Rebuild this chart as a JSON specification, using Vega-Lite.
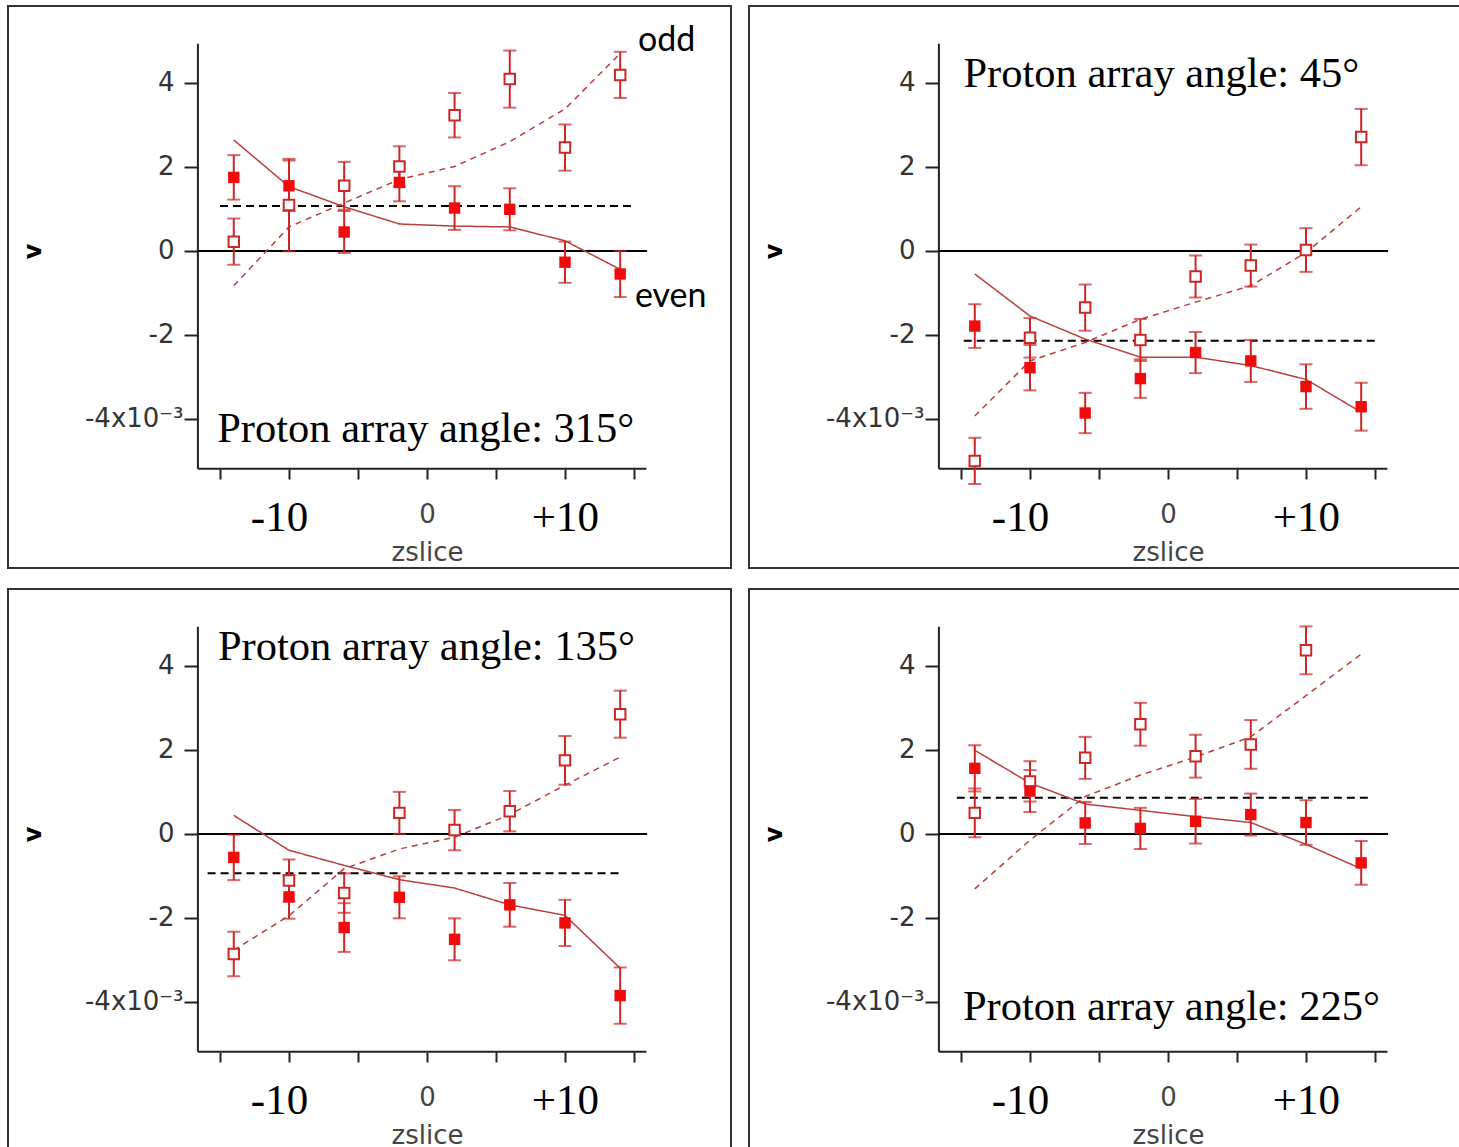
{
  "$schema": "https://vega.github.io/schema/vega-lite/v6.json",
  "padding": {"left": 7, "top": 5, "right": 0, "bottom": 0},
  "background": "white",
  "config": {"view": {"stroke": "#333", "strokeWidth": 2}},
  "data": {"values": [
    {"angle": 315, "type": "pt", "kind": "even", "z": -14, "v": 1.75, "err": 0.53},
    {"angle": 315, "type": "pt", "kind": "even", "z": -10, "v": 1.55, "err": 0.6},
    {"angle": 315, "type": "pt", "kind": "even", "z": -6, "v": 0.45, "err": 0.5},
    {"angle": 315, "type": "pt", "kind": "even", "z": -2, "v": 1.63, "err": 0.45},
    {"angle": 315, "type": "pt", "kind": "even", "z": 2, "v": 1.02, "err": 0.52},
    {"angle": 315, "type": "pt", "kind": "even", "z": 6, "v": 0.99, "err": 0.5},
    {"angle": 315, "type": "pt", "kind": "even", "z": 10, "v": -0.27, "err": 0.49},
    {"angle": 315, "type": "pt", "kind": "even", "z": 14, "v": -0.55, "err": 0.55},
    {"angle": 315, "type": "pt", "kind": "odd", "z": -14, "v": 0.22, "err": 0.55},
    {"angle": 315, "type": "pt", "kind": "odd", "z": -10, "v": 1.09, "err": 1.1},
    {"angle": 315, "type": "pt", "kind": "odd", "z": -6, "v": 1.55, "err": 0.57},
    {"angle": 315, "type": "pt", "kind": "odd", "z": -2, "v": 2.01, "err": 0.48},
    {"angle": 315, "type": "pt", "kind": "odd", "z": 2, "v": 3.23, "err": 0.53},
    {"angle": 315, "type": "pt", "kind": "odd", "z": 6, "v": 4.09, "err": 0.68},
    {"angle": 315, "type": "pt", "kind": "odd", "z": 10, "v": 2.46, "err": 0.55},
    {"angle": 315, "type": "pt", "kind": "odd", "z": 14, "v": 4.19, "err": 0.55},
    {"angle": 315, "type": "fit", "kind": "even", "z": -14, "v": 2.64},
    {"angle": 315, "type": "fit", "kind": "even", "z": -10, "v": 1.53},
    {"angle": 315, "type": "fit", "kind": "even", "z": -6, "v": 1.05},
    {"angle": 315, "type": "fit", "kind": "even", "z": -2, "v": 0.64},
    {"angle": 315, "type": "fit", "kind": "even", "z": 2, "v": 0.59},
    {"angle": 315, "type": "fit", "kind": "even", "z": 6, "v": 0.57},
    {"angle": 315, "type": "fit", "kind": "even", "z": 10, "v": 0.24},
    {"angle": 315, "type": "fit", "kind": "even", "z": 14, "v": -0.44},
    {"angle": 315, "type": "fit", "kind": "odd", "z": -14, "v": -0.83},
    {"angle": 315, "type": "fit", "kind": "odd", "z": -10, "v": 0.57},
    {"angle": 315, "type": "fit", "kind": "odd", "z": -6, "v": 1.14},
    {"angle": 315, "type": "fit", "kind": "odd", "z": -2, "v": 1.7},
    {"angle": 315, "type": "fit", "kind": "odd", "z": 2, "v": 2.01},
    {"angle": 315, "type": "fit", "kind": "odd", "z": 6, "v": 2.6},
    {"angle": 315, "type": "fit", "kind": "odd", "z": 10, "v": 3.38},
    {"angle": 315, "type": "fit", "kind": "odd", "z": 14, "v": 4.7},
    {"angle": 315, "type": "ref", "z": -15, "z2": 15, "v": 1.07},
    {"angle": 315, "type": "label", "z": -15.2, "v": -4.55, "text": "Proton array angle: 315°"},
    {"angle": 315, "type": "note", "z": 15.29, "v": 4.75, "text": "odd"},
    {"angle": 315, "type": "note", "z": 15.07, "v": -1.33, "text": "even"},

    {"angle": 45, "type": "pt", "kind": "even", "z": -14, "v": -1.79, "err": 0.52},
    {"angle": 45, "type": "pt", "kind": "even", "z": -10, "v": -2.78, "err": 0.54},
    {"angle": 45, "type": "pt", "kind": "even", "z": -6, "v": -3.86, "err": 0.48},
    {"angle": 45, "type": "pt", "kind": "even", "z": -2, "v": -3.04, "err": 0.46},
    {"angle": 45, "type": "pt", "kind": "even", "z": 2, "v": -2.42, "err": 0.49},
    {"angle": 45, "type": "pt", "kind": "even", "z": 6, "v": -2.62, "err": 0.5},
    {"angle": 45, "type": "pt", "kind": "even", "z": 10, "v": -3.23, "err": 0.53},
    {"angle": 45, "type": "pt", "kind": "even", "z": 14, "v": -3.71, "err": 0.57},
    {"angle": 45, "type": "pt", "kind": "odd", "z": -14, "v": -5.0, "err": 0.55},
    {"angle": 45, "type": "pt", "kind": "odd", "z": -10, "v": -2.07, "err": 0.47},
    {"angle": 45, "type": "pt", "kind": "odd", "z": -6, "v": -1.35, "err": 0.55},
    {"angle": 45, "type": "pt", "kind": "odd", "z": -2, "v": -2.12, "err": 0.5},
    {"angle": 45, "type": "pt", "kind": "odd", "z": 2, "v": -0.61, "err": 0.5},
    {"angle": 45, "type": "pt", "kind": "odd", "z": 6, "v": -0.35, "err": 0.5},
    {"angle": 45, "type": "pt", "kind": "odd", "z": 10, "v": 0.02, "err": 0.52},
    {"angle": 45, "type": "pt", "kind": "odd", "z": 14, "v": 2.71, "err": 0.67},
    {"angle": 45, "type": "fit", "kind": "even", "z": -14, "v": -0.55},
    {"angle": 45, "type": "fit", "kind": "even", "z": -10, "v": -1.55},
    {"angle": 45, "type": "fit", "kind": "even", "z": -6, "v": -2.1},
    {"angle": 45, "type": "fit", "kind": "even", "z": -2, "v": -2.53},
    {"angle": 45, "type": "fit", "kind": "even", "z": 2, "v": -2.53},
    {"angle": 45, "type": "fit", "kind": "even", "z": 6, "v": -2.73},
    {"angle": 45, "type": "fit", "kind": "even", "z": 10, "v": -3.06},
    {"angle": 45, "type": "fit", "kind": "even", "z": 14, "v": -3.84},
    {"angle": 45, "type": "fit", "kind": "odd", "z": -14, "v": -3.93},
    {"angle": 45, "type": "fit", "kind": "odd", "z": -10, "v": -2.62},
    {"angle": 45, "type": "fit", "kind": "odd", "z": -6, "v": -2.18},
    {"angle": 45, "type": "fit", "kind": "odd", "z": -2, "v": -1.63},
    {"angle": 45, "type": "fit", "kind": "odd", "z": 2, "v": -1.22},
    {"angle": 45, "type": "fit", "kind": "odd", "z": 6, "v": -0.83},
    {"angle": 45, "type": "fit", "kind": "odd", "z": 10, "v": -0.04},
    {"angle": 45, "type": "fit", "kind": "odd", "z": 14, "v": 1.05},
    {"angle": 45, "type": "ref", "z": -14.8, "z2": 15.25, "v": -2.14},
    {"angle": 45, "type": "label", "z": -14.82, "v": 3.9, "text": "Proton array angle: 45°"},

    {"angle": 135, "type": "pt", "kind": "even", "z": -14, "v": -0.56, "err": 0.54},
    {"angle": 135, "type": "pt", "kind": "even", "z": -10, "v": -1.5, "err": 0.52},
    {"angle": 135, "type": "pt", "kind": "even", "z": -6, "v": -2.23, "err": 0.58},
    {"angle": 135, "type": "pt", "kind": "even", "z": -2, "v": -1.51, "err": 0.5},
    {"angle": 135, "type": "pt", "kind": "even", "z": 2, "v": -2.51, "err": 0.5},
    {"angle": 135, "type": "pt", "kind": "even", "z": 6, "v": -1.69, "err": 0.52},
    {"angle": 135, "type": "pt", "kind": "even", "z": 10, "v": -2.12, "err": 0.55},
    {"angle": 135, "type": "pt", "kind": "even", "z": 14, "v": -3.85, "err": 0.67},
    {"angle": 135, "type": "pt", "kind": "odd", "z": -14, "v": -2.86, "err": 0.53},
    {"angle": 135, "type": "pt", "kind": "odd", "z": -10, "v": -1.11, "err": 0.5},
    {"angle": 135, "type": "pt", "kind": "odd", "z": -6, "v": -1.41, "err": 0.47},
    {"angle": 135, "type": "pt", "kind": "odd", "z": -2, "v": 0.5, "err": 0.5},
    {"angle": 135, "type": "pt", "kind": "odd", "z": 2, "v": 0.09, "err": 0.48},
    {"angle": 135, "type": "pt", "kind": "odd", "z": 6, "v": 0.54, "err": 0.48},
    {"angle": 135, "type": "pt", "kind": "odd", "z": 10, "v": 1.75, "err": 0.58},
    {"angle": 135, "type": "pt", "kind": "odd", "z": 14, "v": 2.85, "err": 0.56},
    {"angle": 135, "type": "fit", "kind": "even", "z": -14, "v": 0.44},
    {"angle": 135, "type": "fit", "kind": "even", "z": -10, "v": -0.39},
    {"angle": 135, "type": "fit", "kind": "even", "z": -6, "v": -0.75},
    {"angle": 135, "type": "fit", "kind": "even", "z": -2, "v": -1.09},
    {"angle": 135, "type": "fit", "kind": "even", "z": 2, "v": -1.29},
    {"angle": 135, "type": "fit", "kind": "even", "z": 6, "v": -1.69},
    {"angle": 135, "type": "fit", "kind": "even", "z": 10, "v": -1.94},
    {"angle": 135, "type": "fit", "kind": "even", "z": 14, "v": -3.2},
    {"angle": 135, "type": "fit", "kind": "odd", "z": -14, "v": -2.77},
    {"angle": 135, "type": "fit", "kind": "odd", "z": -10, "v": -1.95},
    {"angle": 135, "type": "fit", "kind": "odd", "z": -6, "v": -0.83},
    {"angle": 135, "type": "fit", "kind": "odd", "z": -2, "v": -0.36},
    {"angle": 135, "type": "fit", "kind": "odd", "z": 2, "v": -0.08},
    {"angle": 135, "type": "fit", "kind": "odd", "z": 6, "v": 0.46},
    {"angle": 135, "type": "fit", "kind": "odd", "z": 10, "v": 1.16},
    {"angle": 135, "type": "fit", "kind": "odd", "z": 14, "v": 1.83},
    {"angle": 135, "type": "ref", "z": -15.9, "z2": 14, "v": -0.94},
    {"angle": 135, "type": "label", "z": -15.15, "v": 4.14, "text": "Proton array angle: 135°"},

    {"angle": 225, "type": "pt", "kind": "even", "z": -14, "v": 1.56, "err": 0.55},
    {"angle": 225, "type": "pt", "kind": "even", "z": -10, "v": 1.02, "err": 0.5},
    {"angle": 225, "type": "pt", "kind": "even", "z": -6, "v": 0.26, "err": 0.5},
    {"angle": 225, "type": "pt", "kind": "even", "z": -2, "v": 0.13, "err": 0.49},
    {"angle": 225, "type": "pt", "kind": "even", "z": 2, "v": 0.3, "err": 0.53},
    {"angle": 225, "type": "pt", "kind": "even", "z": 6, "v": 0.46, "err": 0.5},
    {"angle": 225, "type": "pt", "kind": "even", "z": 10, "v": 0.27, "err": 0.53},
    {"angle": 225, "type": "pt", "kind": "even", "z": 14, "v": -0.69, "err": 0.52},
    {"angle": 225, "type": "pt", "kind": "odd", "z": -14, "v": 0.5, "err": 0.58},
    {"angle": 225, "type": "pt", "kind": "odd", "z": -10, "v": 1.25, "err": 0.48},
    {"angle": 225, "type": "pt", "kind": "odd", "z": -6, "v": 1.81, "err": 0.5},
    {"angle": 225, "type": "pt", "kind": "odd", "z": -2, "v": 2.61, "err": 0.51},
    {"angle": 225, "type": "pt", "kind": "odd", "z": 2, "v": 1.85, "err": 0.51},
    {"angle": 225, "type": "pt", "kind": "odd", "z": 6, "v": 2.13, "err": 0.58},
    {"angle": 225, "type": "pt", "kind": "odd", "z": 10, "v": 4.37, "err": 0.57},
    {"angle": 225, "type": "fit", "kind": "even", "z": -14, "v": 1.99},
    {"angle": 225, "type": "fit", "kind": "even", "z": -10, "v": 1.21},
    {"angle": 225, "type": "fit", "kind": "even", "z": -6, "v": 0.71},
    {"angle": 225, "type": "fit", "kind": "even", "z": -2, "v": 0.56},
    {"angle": 225, "type": "fit", "kind": "even", "z": 2, "v": 0.41},
    {"angle": 225, "type": "fit", "kind": "even", "z": 6, "v": 0.27},
    {"angle": 225, "type": "fit", "kind": "even", "z": 10, "v": -0.25},
    {"angle": 225, "type": "fit", "kind": "even", "z": 14, "v": -0.83},
    {"angle": 225, "type": "fit", "kind": "odd", "z": -14, "v": -1.31},
    {"angle": 225, "type": "fit", "kind": "odd", "z": -10, "v": -0.15},
    {"angle": 225, "type": "fit", "kind": "odd", "z": -6, "v": 0.89},
    {"angle": 225, "type": "fit", "kind": "odd", "z": -2, "v": 1.4},
    {"angle": 225, "type": "fit", "kind": "odd", "z": 2, "v": 1.83},
    {"angle": 225, "type": "fit", "kind": "odd", "z": 6, "v": 2.31},
    {"angle": 225, "type": "fit", "kind": "odd", "z": 10, "v": 3.29},
    {"angle": 225, "type": "fit", "kind": "odd", "z": 14, "v": 4.28},
    {"angle": 225, "type": "ref", "z": -15.3, "z2": 14.5, "v": 0.86},
    {"angle": 225, "type": "label", "z": -14.86, "v": -4.44, "text": "Proton array angle: 225°"}
  ]},
  "columns": 2,
  "spacing": {"row": 19, "column": 16},
  "concat": [
    {
      "width": 723, "height": 562,
      "transform": [{"filter": "datum.angle == 315"}],
      "layer": [
        {"transform": [{"filter": "datum.type == 'ref'"}], "mark": {"type": "rule", "color": "#222", "strokeWidth": 2},
         "encoding": {"x": {"datum": -16.6}, "y": {"datum": -5.19}, "y2": {"datum": 4.93}}},
        {"transform": [{"filter": "datum.type == 'ref'"}], "mark": {"type": "rule", "color": "#222", "strokeWidth": 2},
         "encoding": {"x": {"datum": -16.6}, "x2": {"datum": 15.9}, "y": {"datum": -5.19}}},
        {"transform": [{"filter": "datum.type == 'ref'"}], "mark": {"type": "rule", "color": "black", "strokeWidth": 2},
         "encoding": {"x": {"datum": -16.6}, "x2": {"datum": 15.95}, "y": {"datum": 0}}},
        {"transform": [{"filter": "datum.type == 'ref'"}], "mark": {"type": "rule", "color": "black", "strokeWidth": 2, "strokeDash": [8, 5]},
         "encoding": {
          "x": {"field": "z", "type": "quantitative", "scale": {"domain": [-30.36, 22.03], "nice": false, "zero": false},
            "axis": {"title": "zslice", "values": [-15, -10, -5, 0, 5, 10, 15], "domain": false, "grid": false, "offset": -99, "tickSize": 10, "tickWidth": 2, "tickColor": "#222",
              "labelExpr": "datum.value == -10 ? '-10' : datum.value == 10 ? '+10' : datum.value == 0 ? '0' : ''",
              "labelFont": {"condition": {"test": "datum.value == 0", "value": "DejaVu Sans"}, "value": "Liberation Serif"},
              "labelFontSize": {"condition": {"test": "datum.value == 0", "value": 26}, "value": 43},
              "labelColor": {"condition": {"test": "datum.value == 0", "value": "#444"}, "value": "black"},
              "labelBaseline": "alphabetic",
              "labelPadding": {"condition": {"test": "datum.value == 0", "value": 43}, "value": 51},
              "labelOffset": {"condition": {"test": "datum.value == -10", "value": -10}, "value": 0},
              "labelOverlap": false, "labelFlush": false,
              "titleFont": "DejaVu Sans", "titleFontSize": 26, "titleFontWeight": "normal", "titleColor": "#444",
              "titleX": 419, "titleY": 91, "titleBaseline": "alphabetic", "titleAlign": "center"}},
          "x2": {"field": "z2"},
          "y": {"field": "v", "type": "quantitative", "scale": {"domain": [-7.55, 5.83], "nice": false, "zero": false},
            "axis": {"title": "v", "values": [-4, -2, 0, 2, 4], "domain": false, "grid": false, "offset": -190, "tickSize": 14, "tickWidth": 2, "tickColor": "#222",
              "labelExpr": "datum.value == -4 ? '-4x10⁻³' : (datum.value < 0 ? '-' + abs(datum.value) : '' + datum.value)",
              "labelFont": "DejaVu Sans", "labelFontSize": 26, "labelColor": "#333",
              "labelPadding": {"condition": {"test": "datum.value == -4", "value": 1}, "value": 10},
              "labelBaseline": "middle", "labelOverlap": false, "labelFlush": false,
              "titleFont": "DejaVu Sans", "titleFontWeight": "bold", "titleFontSize": 24, "titleColor": "black",
              "titleX": -165, "titleY": 245, "titleAngle": -90, "titleAlign": "center", "titleBaseline": "middle"}}
        }},
        {"transform": [{"filter": "datum.type == 'fit'"}], "mark": {"type": "line", "color": "#b8403c", "strokeWidth": 1.5},
         "encoding": {"x": {"field": "z", "type": "quantitative"}, "y": {"field": "v", "type": "quantitative"},
          "strokeDash": {"field": "kind", "type": "nominal", "scale": {"domain": ["even", "odd"], "range": [[1, 0], [6, 5]]}, "legend": null}}},
        {"transform": [{"filter": "datum.type == 'pt'"}], "mark": {"type": "errorbar", "ticks": {"size": 13, "strokeWidth": 2}, "rule": {"strokeWidth": 2}, "color": "#cc2626", "thickness": 2},
         "encoding": {"x": {"field": "z", "type": "quantitative"}, "y": {"field": "v", "type": "quantitative"}, "yError": {"field": "err"}}},
        {"transform": [{"filter": "datum.type == 'pt' && datum.kind == 'odd'"}], "mark": {"type": "square", "size": 110, "filled": true, "fill": "white", "stroke": "#cc2626", "strokeWidth": 2, "opacity": 1},
         "encoding": {"x": {"field": "z", "type": "quantitative"}, "y": {"field": "v", "type": "quantitative"}}},
        {"transform": [{"filter": "datum.type == 'pt' && datum.kind == 'even'"}], "mark": {"type": "square", "size": 130, "color": "#f00c0c", "opacity": 1},
         "encoding": {"x": {"field": "z", "type": "quantitative"}, "y": {"field": "v", "type": "quantitative"}}},
        {"transform": [{"filter": "datum.type == 'label'"}], "mark": {"type": "text", "font": "Liberation Serif", "fontSize": 42.5, "align": "left", "baseline": "alphabetic", "color": "black"},
         "encoding": {"x": {"field": "z", "type": "quantitative"}, "y": {"field": "v", "type": "quantitative"}, "text": {"field": "text"}}},
        {"transform": [{"filter": "datum.type == 'note'"}], "mark": {"type": "text", "font": "Lato", "fontSize": 34, "align": "left", "baseline": "alphabetic", "color": "black"},
         "encoding": {"x": {"field": "z", "type": "quantitative"}, "y": {"field": "v", "type": "quantitative"}, "text": {"field": "text"}}}
      ]
    },
    {
      "width": 723, "height": 562,
      "transform": [{"filter": "datum.angle == 45"}],
      "layer": [
        {"transform": [{"filter": "datum.type == 'ref'"}], "mark": {"type": "rule", "color": "#222", "strokeWidth": 2},
         "encoding": {"x": {"datum": -16.6}, "y": {"datum": -5.19}, "y2": {"datum": 4.93}}},
        {"transform": [{"filter": "datum.type == 'ref'"}], "mark": {"type": "rule", "color": "#222", "strokeWidth": 2},
         "encoding": {"x": {"datum": -16.6}, "x2": {"datum": 15.9}, "y": {"datum": -5.19}}},
        {"transform": [{"filter": "datum.type == 'ref'"}], "mark": {"type": "rule", "color": "black", "strokeWidth": 2},
         "encoding": {"x": {"datum": -16.6}, "x2": {"datum": 15.95}, "y": {"datum": 0}}},
        {"transform": [{"filter": "datum.type == 'ref'"}], "mark": {"type": "rule", "color": "black", "strokeWidth": 2, "strokeDash": [8, 5]},
         "encoding": {
          "x": {"field": "z", "type": "quantitative", "scale": {"domain": [-30.36, 22.03], "nice": false, "zero": false},
            "axis": {"title": "zslice", "values": [-15, -10, -5, 0, 5, 10, 15], "domain": false, "grid": false, "offset": -99, "tickSize": 10, "tickWidth": 2, "tickColor": "#222",
              "labelExpr": "datum.value == -10 ? '-10' : datum.value == 10 ? '+10' : datum.value == 0 ? '0' : ''",
              "labelFont": {"condition": {"test": "datum.value == 0", "value": "DejaVu Sans"}, "value": "Liberation Serif"},
              "labelFontSize": {"condition": {"test": "datum.value == 0", "value": 26}, "value": 43},
              "labelColor": {"condition": {"test": "datum.value == 0", "value": "#444"}, "value": "black"},
              "labelBaseline": "alphabetic",
              "labelPadding": {"condition": {"test": "datum.value == 0", "value": 43}, "value": 51},
              "labelOffset": {"condition": {"test": "datum.value == -10", "value": -10}, "value": 0},
              "labelOverlap": false, "labelFlush": false,
              "titleFont": "DejaVu Sans", "titleFontSize": 26, "titleFontWeight": "normal", "titleColor": "#444",
              "titleX": 419, "titleY": 91, "titleBaseline": "alphabetic", "titleAlign": "center"}},
          "x2": {"field": "z2"},
          "y": {"field": "v", "type": "quantitative", "scale": {"domain": [-7.55, 5.83], "nice": false, "zero": false},
            "axis": {"title": "v", "values": [-4, -2, 0, 2, 4], "domain": false, "grid": false, "offset": -190, "tickSize": 14, "tickWidth": 2, "tickColor": "#222",
              "labelExpr": "datum.value == -4 ? '-4x10⁻³' : (datum.value < 0 ? '-' + abs(datum.value) : '' + datum.value)",
              "labelFont": "DejaVu Sans", "labelFontSize": 26, "labelColor": "#333",
              "labelPadding": {"condition": {"test": "datum.value == -4", "value": 1}, "value": 10},
              "labelBaseline": "middle", "labelOverlap": false, "labelFlush": false,
              "titleFont": "DejaVu Sans", "titleFontWeight": "bold", "titleFontSize": 24, "titleColor": "black",
              "titleX": -165, "titleY": 245, "titleAngle": -90, "titleAlign": "center", "titleBaseline": "middle"}}
        }},
        {"transform": [{"filter": "datum.type == 'fit'"}], "mark": {"type": "line", "color": "#b8403c", "strokeWidth": 1.5},
         "encoding": {"x": {"field": "z", "type": "quantitative"}, "y": {"field": "v", "type": "quantitative"},
          "strokeDash": {"field": "kind", "type": "nominal", "scale": {"domain": ["even", "odd"], "range": [[1, 0], [6, 5]]}, "legend": null}}},
        {"transform": [{"filter": "datum.type == 'pt'"}], "mark": {"type": "errorbar", "ticks": {"size": 13, "strokeWidth": 2}, "rule": {"strokeWidth": 2}, "color": "#cc2626", "thickness": 2},
         "encoding": {"x": {"field": "z", "type": "quantitative"}, "y": {"field": "v", "type": "quantitative"}, "yError": {"field": "err"}}},
        {"transform": [{"filter": "datum.type == 'pt' && datum.kind == 'odd'"}], "mark": {"type": "square", "size": 110, "filled": true, "fill": "white", "stroke": "#cc2626", "strokeWidth": 2, "opacity": 1},
         "encoding": {"x": {"field": "z", "type": "quantitative"}, "y": {"field": "v", "type": "quantitative"}}},
        {"transform": [{"filter": "datum.type == 'pt' && datum.kind == 'even'"}], "mark": {"type": "square", "size": 130, "color": "#f00c0c", "opacity": 1},
         "encoding": {"x": {"field": "z", "type": "quantitative"}, "y": {"field": "v", "type": "quantitative"}}},
        {"transform": [{"filter": "datum.type == 'label'"}], "mark": {"type": "text", "font": "Liberation Serif", "fontSize": 42.5, "align": "left", "baseline": "alphabetic", "color": "black"},
         "encoding": {"x": {"field": "z", "type": "quantitative"}, "y": {"field": "v", "type": "quantitative"}, "text": {"field": "text"}}}
      ]
    },
    {
      "width": 723, "height": 562,
      "transform": [{"filter": "datum.angle == 135"}],
      "layer": [
        {"transform": [{"filter": "datum.type == 'ref'"}], "mark": {"type": "rule", "color": "#222", "strokeWidth": 2},
         "encoding": {"x": {"datum": -16.6}, "y": {"datum": -5.19}, "y2": {"datum": 4.93}}},
        {"transform": [{"filter": "datum.type == 'ref'"}], "mark": {"type": "rule", "color": "#222", "strokeWidth": 2},
         "encoding": {"x": {"datum": -16.6}, "x2": {"datum": 15.9}, "y": {"datum": -5.19}}},
        {"transform": [{"filter": "datum.type == 'ref'"}], "mark": {"type": "rule", "color": "black", "strokeWidth": 2},
         "encoding": {"x": {"datum": -16.6}, "x2": {"datum": 15.95}, "y": {"datum": 0}}},
        {"transform": [{"filter": "datum.type == 'ref'"}], "mark": {"type": "rule", "color": "black", "strokeWidth": 2, "strokeDash": [8, 5]},
         "encoding": {
          "x": {"field": "z", "type": "quantitative", "scale": {"domain": [-30.36, 22.03], "nice": false, "zero": false},
            "axis": {"title": "zslice", "values": [-15, -10, -5, 0, 5, 10, 15], "domain": false, "grid": false, "offset": -99, "tickSize": 10, "tickWidth": 2, "tickColor": "#222",
              "labelExpr": "datum.value == -10 ? '-10' : datum.value == 10 ? '+10' : datum.value == 0 ? '0' : ''",
              "labelFont": {"condition": {"test": "datum.value == 0", "value": "DejaVu Sans"}, "value": "Liberation Serif"},
              "labelFontSize": {"condition": {"test": "datum.value == 0", "value": 26}, "value": 43},
              "labelColor": {"condition": {"test": "datum.value == 0", "value": "#444"}, "value": "black"},
              "labelBaseline": "alphabetic",
              "labelPadding": {"condition": {"test": "datum.value == 0", "value": 43}, "value": 51},
              "labelOffset": {"condition": {"test": "datum.value == -10", "value": -10}, "value": 0},
              "labelOverlap": false, "labelFlush": false,
              "titleFont": "DejaVu Sans", "titleFontSize": 26, "titleFontWeight": "normal", "titleColor": "#444",
              "titleX": 419, "titleY": 91, "titleBaseline": "alphabetic", "titleAlign": "center"}},
          "x2": {"field": "z2"},
          "y": {"field": "v", "type": "quantitative", "scale": {"domain": [-7.55, 5.83], "nice": false, "zero": false},
            "axis": {"title": "v", "values": [-4, -2, 0, 2, 4], "domain": false, "grid": false, "offset": -190, "tickSize": 14, "tickWidth": 2, "tickColor": "#222",
              "labelExpr": "datum.value == -4 ? '-4x10⁻³' : (datum.value < 0 ? '-' + abs(datum.value) : '' + datum.value)",
              "labelFont": "DejaVu Sans", "labelFontSize": 26, "labelColor": "#333",
              "labelPadding": {"condition": {"test": "datum.value == -4", "value": 1}, "value": 10},
              "labelBaseline": "middle", "labelOverlap": false, "labelFlush": false,
              "titleFont": "DejaVu Sans", "titleFontWeight": "bold", "titleFontSize": 24, "titleColor": "black",
              "titleX": -165, "titleY": 245, "titleAngle": -90, "titleAlign": "center", "titleBaseline": "middle"}}
        }},
        {"transform": [{"filter": "datum.type == 'fit'"}], "mark": {"type": "line", "color": "#b8403c", "strokeWidth": 1.5},
         "encoding": {"x": {"field": "z", "type": "quantitative"}, "y": {"field": "v", "type": "quantitative"},
          "strokeDash": {"field": "kind", "type": "nominal", "scale": {"domain": ["even", "odd"], "range": [[1, 0], [6, 5]]}, "legend": null}}},
        {"transform": [{"filter": "datum.type == 'pt'"}], "mark": {"type": "errorbar", "ticks": {"size": 13, "strokeWidth": 2}, "rule": {"strokeWidth": 2}, "color": "#cc2626", "thickness": 2},
         "encoding": {"x": {"field": "z", "type": "quantitative"}, "y": {"field": "v", "type": "quantitative"}, "yError": {"field": "err"}}},
        {"transform": [{"filter": "datum.type == 'pt' && datum.kind == 'odd'"}], "mark": {"type": "square", "size": 110, "filled": true, "fill": "white", "stroke": "#cc2626", "strokeWidth": 2, "opacity": 1},
         "encoding": {"x": {"field": "z", "type": "quantitative"}, "y": {"field": "v", "type": "quantitative"}}},
        {"transform": [{"filter": "datum.type == 'pt' && datum.kind == 'even'"}], "mark": {"type": "square", "size": 130, "color": "#f00c0c", "opacity": 1},
         "encoding": {"x": {"field": "z", "type": "quantitative"}, "y": {"field": "v", "type": "quantitative"}}},
        {"transform": [{"filter": "datum.type == 'label'"}], "mark": {"type": "text", "font": "Liberation Serif", "fontSize": 42.5, "align": "left", "baseline": "alphabetic", "color": "black"},
         "encoding": {"x": {"field": "z", "type": "quantitative"}, "y": {"field": "v", "type": "quantitative"}, "text": {"field": "text"}}}
      ]
    },
    {
      "width": 723, "height": 562,
      "transform": [{"filter": "datum.angle == 225"}],
      "layer": [
        {"transform": [{"filter": "datum.type == 'ref'"}], "mark": {"type": "rule", "color": "#222", "strokeWidth": 2},
         "encoding": {"x": {"datum": -16.6}, "y": {"datum": -5.19}, "y2": {"datum": 4.93}}},
        {"transform": [{"filter": "datum.type == 'ref'"}], "mark": {"type": "rule", "color": "#222", "strokeWidth": 2},
         "encoding": {"x": {"datum": -16.6}, "x2": {"datum": 15.9}, "y": {"datum": -5.19}}},
        {"transform": [{"filter": "datum.type == 'ref'"}], "mark": {"type": "rule", "color": "black", "strokeWidth": 2},
         "encoding": {"x": {"datum": -16.6}, "x2": {"datum": 15.95}, "y": {"datum": 0}}},
        {"transform": [{"filter": "datum.type == 'ref'"}], "mark": {"type": "rule", "color": "black", "strokeWidth": 2, "strokeDash": [8, 5]},
         "encoding": {
          "x": {"field": "z", "type": "quantitative", "scale": {"domain": [-30.36, 22.03], "nice": false, "zero": false},
            "axis": {"title": "zslice", "values": [-15, -10, -5, 0, 5, 10, 15], "domain": false, "grid": false, "offset": -99, "tickSize": 10, "tickWidth": 2, "tickColor": "#222",
              "labelExpr": "datum.value == -10 ? '-10' : datum.value == 10 ? '+10' : datum.value == 0 ? '0' : ''",
              "labelFont": {"condition": {"test": "datum.value == 0", "value": "DejaVu Sans"}, "value": "Liberation Serif"},
              "labelFontSize": {"condition": {"test": "datum.value == 0", "value": 26}, "value": 43},
              "labelColor": {"condition": {"test": "datum.value == 0", "value": "#444"}, "value": "black"},
              "labelBaseline": "alphabetic",
              "labelPadding": {"condition": {"test": "datum.value == 0", "value": 43}, "value": 51},
              "labelOffset": {"condition": {"test": "datum.value == -10", "value": -10}, "value": 0},
              "labelOverlap": false, "labelFlush": false,
              "titleFont": "DejaVu Sans", "titleFontSize": 26, "titleFontWeight": "normal", "titleColor": "#444",
              "titleX": 419, "titleY": 91, "titleBaseline": "alphabetic", "titleAlign": "center"}},
          "x2": {"field": "z2"},
          "y": {"field": "v", "type": "quantitative", "scale": {"domain": [-7.55, 5.83], "nice": false, "zero": false},
            "axis": {"title": "v", "values": [-4, -2, 0, 2, 4], "domain": false, "grid": false, "offset": -190, "tickSize": 14, "tickWidth": 2, "tickColor": "#222",
              "labelExpr": "datum.value == -4 ? '-4x10⁻³' : (datum.value < 0 ? '-' + abs(datum.value) : '' + datum.value)",
              "labelFont": "DejaVu Sans", "labelFontSize": 26, "labelColor": "#333",
              "labelPadding": {"condition": {"test": "datum.value == -4", "value": 1}, "value": 10},
              "labelBaseline": "middle", "labelOverlap": false, "labelFlush": false,
              "titleFont": "DejaVu Sans", "titleFontWeight": "bold", "titleFontSize": 24, "titleColor": "black",
              "titleX": -165, "titleY": 245, "titleAngle": -90, "titleAlign": "center", "titleBaseline": "middle"}}
        }},
        {"transform": [{"filter": "datum.type == 'fit'"}], "mark": {"type": "line", "color": "#b8403c", "strokeWidth": 1.5},
         "encoding": {"x": {"field": "z", "type": "quantitative"}, "y": {"field": "v", "type": "quantitative"},
          "strokeDash": {"field": "kind", "type": "nominal", "scale": {"domain": ["even", "odd"], "range": [[1, 0], [6, 5]]}, "legend": null}}},
        {"transform": [{"filter": "datum.type == 'pt'"}], "mark": {"type": "errorbar", "ticks": {"size": 13, "strokeWidth": 2}, "rule": {"strokeWidth": 2}, "color": "#cc2626", "thickness": 2},
         "encoding": {"x": {"field": "z", "type": "quantitative"}, "y": {"field": "v", "type": "quantitative"}, "yError": {"field": "err"}}},
        {"transform": [{"filter": "datum.type == 'pt' && datum.kind == 'odd'"}], "mark": {"type": "square", "size": 110, "filled": true, "fill": "white", "stroke": "#cc2626", "strokeWidth": 2, "opacity": 1},
         "encoding": {"x": {"field": "z", "type": "quantitative"}, "y": {"field": "v", "type": "quantitative"}}},
        {"transform": [{"filter": "datum.type == 'pt' && datum.kind == 'even'"}], "mark": {"type": "square", "size": 130, "color": "#f00c0c", "opacity": 1},
         "encoding": {"x": {"field": "z", "type": "quantitative"}, "y": {"field": "v", "type": "quantitative"}}},
        {"transform": [{"filter": "datum.type == 'label'"}], "mark": {"type": "text", "font": "Liberation Serif", "fontSize": 42.5, "align": "left", "baseline": "alphabetic", "color": "black"},
         "encoding": {"x": {"field": "z", "type": "quantitative"}, "y": {"field": "v", "type": "quantitative"}, "text": {"field": "text"}}}
      ]
    }
  ]
}
